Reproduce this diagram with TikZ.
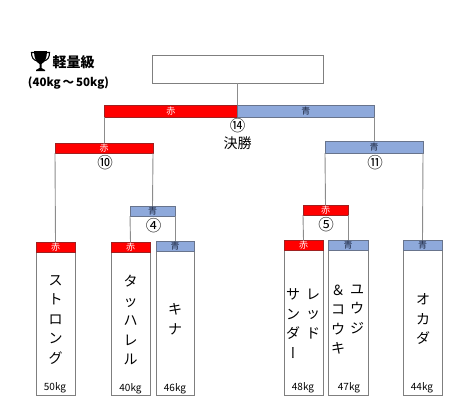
\documentclass[tikz,border=0pt]{standalone}
\usepackage{fontspec}
\setmainfont{Noto Sans CJK JP}
\newfontfamily\vjp[RawFeature={+vert}]{Noto Sans CJK JP}
\newcommand{\boxat}[6]{%
  \pgfmathsetlengthmacro{\bw}{#4-#2}\pgfmathsetlengthmacro{\bh}{#5-#3}%
  \node[#6,minimum width=\bw,minimum height=\bh] (#1) at ({(#2+#4)/2},{(#3+#5)/2}) {\boxtext};%
}
\definecolor{boxgray}{HTML}{7F7F7F}
\definecolor{linegray}{HTML}{8C8C8C}
\definecolor{barred}{HTML}{FF0000}
\definecolor{redline}{HTML}{A02020}
\definecolor{barblue}{HTML}{8EA9DB}
\definecolor{blueline}{HTML}{68748C}
\definecolor{textblue}{HTML}{1F2A44}
\tikzset{
  plainbox/.style={draw=boxgray,line width=0.9pt,fill=white,inner sep=0pt,outer sep=0pt},
  redbar/.style={draw=redline,line width=0.8pt,fill=barred,inner sep=0pt,outer sep=0pt,text=white,font=\fontsize{9}{9}\selectfont},
  bluebar/.style={draw=blueline,line width=0.8pt,fill=barblue,inner sep=0pt,outer sep=0pt,text=textblue,font=\fontsize{9}{9}\selectfont},
  linkline/.style={draw=linegray,line width=0.9pt},
  nametext/.style={inner sep=0pt,font=\fontsize{14}{19.5}\selectfont,align=center,text=black},
  weighttext/.style={inner sep=0pt,font=\fontsize{10}{10}\selectfont,text=black},
  numtext/.style={inner sep=0pt,font=\fontsize{15.5}{16}\selectfont,text=black},
}
\begin{document}
\begin{tikzpicture}[x=1pt,y=-1pt]
\useasboundingbox (0,0) rectangle (468,410);
% top box
\let\boxtext\relax
\boxat{top}{152}{55}{323}{83}{plainbox}
% player bodies
\boxat{pa}{36}{252}{75}{395}{plainbox}
\boxat{pb}{111}{252}{150}{395}{plainbox}
\boxat{pc}{156}{251}{194}{395}{plainbox}
\boxat{pd}{284}{250}{323}{395}{plainbox}
\boxat{pe}{328}{250}{368}{395}{plainbox}
\boxat{pf}{403}{250}{442}{395}{plainbox}
% bars
\def\boxtext{赤}
\boxat{rf}{104}{105}{237.5}{117}{redbar}
\boxat{sl}{55}{143}{153}{153}{redbar}
\boxat{ha}{36}{242}{75}{252}{redbar}
\boxat{hb}{111}{242}{150}{252}{redbar}
\boxat{q5}{303}{205}{348}{215}{redbar}
\boxat{hd}{284}{240}{323}{250}{redbar}
\def\boxtext{青}
\boxat{bf}{237.5}{105}{374}{117}{bluebar}
\boxat{sr}{325}{141}{423}{153}{bluebar}
\boxat{q4}{130}{206}{175}{216}{bluebar}
\boxat{hc}{156}{241}{194}{251}{bluebar}
\boxat{he}{328}{240}{368}{250}{bluebar}
\boxat{hf}{403}{240}{442}{250}{bluebar}
% connectors
\draw[linkline] (top.south) -- (bf.north west);
\draw[linkline] (rf.south west) -- (sl.north);
\draw[linkline] (bf.south east) -- (sr.north);
\draw[linkline] (sl.south west) -- (ha.north);
\draw[linkline] (sl.south east) -- (q4.north);
\draw[linkline] (sr.south west) -- (q5.north);
\draw[linkline] (sr.south east) -- (hf.north);
\draw[linkline] (q4.south west) -- (hb.north);
\draw[linkline] (q4.south east) -- (hc.north);
\draw[linkline] (q5.south west) -- (hd.north);
\draw[linkline] (q5.south east) -- (he.north);
% round labels
\node[numtext] (n14) at (237.5,126) {⑭};
\node[inner sep=0pt,font=\fontsize{14}{14}\selectfont] (fin) at (237.5,143.5) {決勝};
\node[numtext] (n10) at (105,162.5) {⑩};
\node[numtext] (n11) at (375,162.5) {⑪};
\node[numtext] (n4) at (153.5,225.5) {④};
\node[numtext] (n5) at (326,224.5) {⑤};
% names
\node[nametext,anchor=north] (ta) at (55.5,275) {ス\\ト\\ロ\\ン\\グ};
\node[nametext,anchor=north] (tb) at (130.5,275) {タ\\ッ\\ハ\\レ\\ル};
\node[nametext,anchor=north] (tc) at (175,303.5) {キ\\ナ};
\node[nametext,anchor=north] (td1) at (313,288.5) {レ\\ッ\\ド};
\node[nametext,anchor=north] (td2) at (293,288.5) {サ\\ン\\ダ\\{\vjp ー}};
\node[nametext,anchor=north] (te1) at (357,284.5) {ユ\\ウ\\ジ};
\node[nametext,anchor=north] (te2) at (338,284.5) {＆\\コ\\ウ\\キ};
\node[nametext,anchor=north] (tf) at (423,293.5) {オ\\カ\\ダ};
% weights
\node[weighttext] (wa) at (55,388) {50kg};
\node[weighttext] (wb) at (130.5,389) {40kg};
\node[weighttext] (wc) at (175,389) {46kg};
\node[weighttext] (wd) at (303,388) {48kg};
\node[weighttext] (we) at (349,388) {47kg};
\node[weighttext] (wf) at (422,388) {44kg};
% title
\node[inner sep=0pt,font=\bfseries\fontsize{14}{14}\selectfont] (title) at (73.5,62) {軽量級};
\node[inner sep=0pt,font=\bfseries\fontsize{11.5}{12}\selectfont] (range) at (68.5,83) {(40kg\,\symbol{"FF5E}\,50kg)};
% trophy
\fill[black] (34,51) -- (47,51) .. controls (47,58) and (45,62) .. (41.5,64) -- (41.5,68) -- (45,70) -- (45,71) -- (36,71) -- (36,70) -- (39.5,68) -- (39.5,64) .. controls (36,62) and (34,58) .. (34,51) -- cycle;
\draw[black,line width=1.1pt] (34,52.5) -- (31.5,52.5) .. controls (31.5,57) and (33,60) .. (37,61);
\draw[black,line width=1.1pt] (47,52.5) -- (49.5,52.5) .. controls (49.5,57) and (48,60) .. (44,61);
\end{tikzpicture}
\end{document}
